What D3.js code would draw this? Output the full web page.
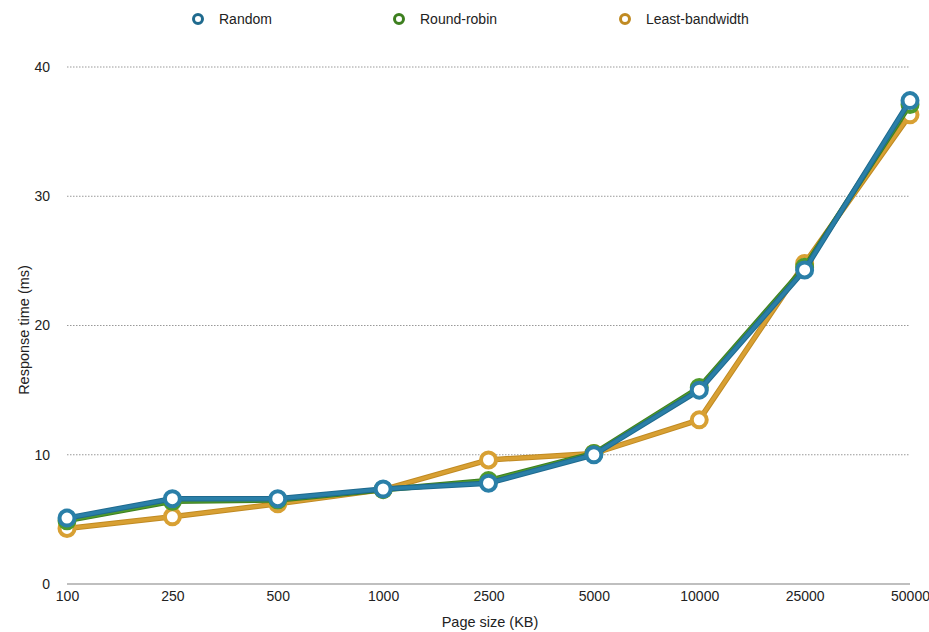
<!DOCTYPE html>
<html><head><meta charset="utf-8">
<script src="https://cdn.jsdelivr.net/npm/d3@7"></script>
<style>body{margin:0;background:#fff}svg{display:block}text{font-family:"Liberation Sans",Arial,sans-serif;fill:#222}</style>
</head><body><svg id="c" width="929" height="632"></svg>
<script>
const categories = ["100","250","500","1000","2500","5000","10000","25000","50000"];
const randomVals = [5.1, 6.6, 6.6, 7.35, 7.8, 10.0, 15.0, 24.3, 37.4];
const roundRobinVals = [4.9, 6.4, 6.5, 7.3, 8.0, 10.1, 15.2, 24.5, 37.1];
const leastBandwidthVals = [4.3, 5.2, 6.2, 7.3, 9.6, 10.1, 12.7, 24.8, 36.3];
const yTicks = [0, 10, 20, 30, 40];
const seriesNames = ["Random", "Round-robin", "Least-bandwidth"];
const colors = {"Random":"#2a7fa8","Round-robin":"#4f9a2c","Least-bandwidth":"#d8a033"};
const darker = {"Random":"#1f6a8e","Round-robin":"#3d7f1f","Least-bandwidth":"#c08a22"};
const series = [
  {name:"Least-bandwidth", values:leastBandwidthVals},
  {name:"Round-robin", values:roundRobinVals},
  {name:"Random", values:randomVals}
];
const svg = d3.select("#c");
const x = d3.scalePoint().domain(categories).range([67, 910]);
const y = d3.scaleLinear().domain([0, 40]).range([584, 67]);

// gridlines
svg.append("g").selectAll("line").data(yTicks.filter(d=>d>0)).join("line")
  .attr("x1",67).attr("x2",910).attr("y1",d=>y(d)).attr("y2",d=>y(d))
  .attr("stroke","#999").attr("stroke-width",1).attr("stroke-dasharray","1.5,1.5");
svg.append("line").attr("x1",67).attr("x2",910).attr("y1",y(0)).attr("y2",y(0))
  .attr("stroke","#aaa").attr("stroke-width",1.5);

// y axis labels
const yAxis = d3.axisLeft(y).tickValues(yTicks).tickSize(0).tickPadding(17);
const yg = svg.append("g").attr("transform","translate(67,0)").call(yAxis);
yg.select(".domain").remove();
yg.selectAll("text").style("font-size","14px").attr("fill","#222");

const xAxis = d3.axisBottom(x).tickSize(0).tickPadding(7);
const xg = svg.append("g").attr("transform",`translate(0,${y(0)})`).call(xAxis);
xg.select(".domain").remove();
xg.selectAll("text").style("font-size","14px").attr("fill","#222");

svg.append("text").attr("x",490).attr("y",627).attr("text-anchor","middle")
  .style("font-size","14.5px").text("Page size (KB)");
svg.append("text").attr("transform","translate(29,330) rotate(-90)").attr("text-anchor","middle")
  .style("font-size","14.5px").text("Response time (ms)");

const line = d3.line().x((d,i)=>x(categories[i])).y(d=>y(d));
series.forEach(s=>{
  const g = svg.append("g");
  g.append("path").attr("d",line(s.values)).attr("fill","none")
    .attr("stroke",darker[s.name]).attr("stroke-width",5.5).attr("stroke-linejoin","round");
  g.append("path").attr("d",line(s.values)).attr("fill","none")
    .attr("stroke",colors[s.name]).attr("stroke-width",3.5).attr("stroke-linejoin","round");
  g.selectAll("circle").data(s.values).join("circle")
    .attr("cx",(d,i)=>x(categories[i])).attr("cy",d=>y(d)).attr("r",7.5)
    .attr("fill","#fff").attr("stroke",colors[s.name]).attr("stroke-width",4);
});

// legend
const legX = [198, 399, 625];
seriesNames.forEach((n,i)=>{
  svg.append("circle").attr("cx",legX[i]).attr("cy",19).attr("r",4.5).attr("fill","#fff")
    .attr("stroke",darker[n]).attr("stroke-width",3);
  svg.append("text").attr("x",legX[i]+21).attr("y",24).style("font-size","14px").text(n);
});
</script></body></html>
